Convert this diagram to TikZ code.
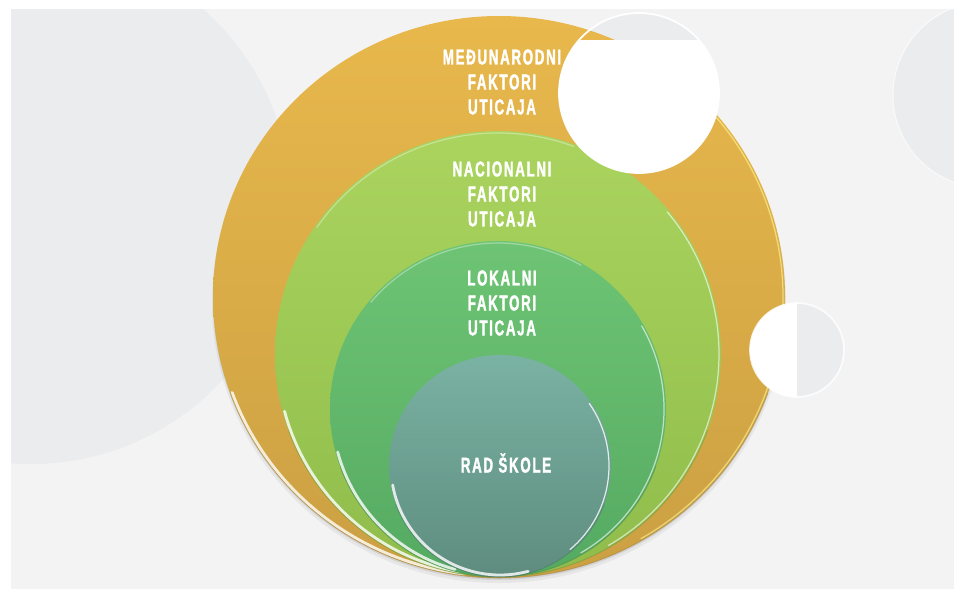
\documentclass[tikz,border=0pt]{standalone}
\usepackage{fontspec}
\setsansfont{Liberation Sans}[BoldFont={Liberation Sans Bold},BoldFeatures={FakeBold=1.6},FakeStretch=0.62,LetterSpace=8]
\usetikzlibrary{calc}
\definecolor{cBack}{HTML}{F3F3F3}
\definecolor{cDisc}{HTML}{EBECEE}
\definecolor{cGoldT}{HTML}{E8B84C}
\definecolor{cGoldB}{HTML}{CBA043}
\definecolor{cLimeT}{HTML}{AAD45E}
\definecolor{cLimeB}{HTML}{8FBC4B}
\definecolor{cLeafT}{HTML}{6EC474}
\definecolor{cLeafB}{HTML}{55AA62}
\definecolor{cTealT}{HTML}{7AB2A3}
\definecolor{cTealB}{HTML}{5E8D7F}
\tikzset{
  ring/.style={line width=0.5pt,opacity=0.35},
  gloss/.style={draw=white,line width=1.6pt,line cap=round,opacity=0.8},
  rim/.style={draw=white,line width=0.7pt,line cap=round,opacity=0.6},
  lbl/.style={font=\sffamily\bfseries\fontsize{12.2}{14.2}\selectfont,text=white,align=center,inner sep=0pt},
  deco/.style={draw=white,line width=1pt}}

\begin{document}
\begin{tikzpicture}[x=0.02cm,y=-0.02cm]
\useasboundingbox (0,0) rectangle (954,589);
\fill[white] (0,0) rectangle (954,589);
\fill[cBack] (11,9) rectangle (954,589);
% pale discs behind the rings
\begin{scope}
  \clip (11,9) rectangle (954,589);
  \fill[cDisc] (31,204) circle[radius=260];
  \fill[cDisc] (986,95) circle[radius=93];
  \draw[white,line width=0.6pt,opacity=0.7] (986,95) circle[radius=93];
  \clip (550,0) rectangle (730,40);
  \fill[cDisc] (639,93) circle[radius=80];
\end{scope}
% soft shadow
\fill[black,opacity=0.05] (499,302) ellipse[x radius=287,y radius=281];
\fill[black,opacity=0.08] (499,299) ellipse[x radius=286,y radius=281];
% rings, outer to inner
\shade[top color=cGoldT,bottom color=cGoldB] (499,297) ellipse[x radius=286,y radius=281];
\draw[ring,cGoldB!70!black] (499,297) ++(20:286 and 281) arc[start angle=20,end angle=160,x radius=286,y radius=281];
\draw[rim,draw=yellow!40] (499,297) ++(-40:284 and 279) arc[start angle=-40,end angle=60,x radius=284,y radius=279];
\draw[gloss] (499,297) ++(160:284 and 279) arc[start angle=160,end angle=97,x radius=284,y radius=279];

\shade[top color=cLimeT,bottom color=cLimeB] (498,354) circle[radius=223];
\draw[ring,cLimeB!70!black] (498,354) ++(20:223) arc[start angle=20,end angle=160,radius=223];
\draw[rim] (498,354) ++(-40:221) arc[start angle=-40,end angle=60,radius=221];
\draw[rim,opacity=0.35] (498,354) ++(215:221) arc[start angle=215,end angle=290,radius=221];
\draw[gloss] (498,354) ++(165:221) arc[start angle=165,end angle=100,radius=221];

\shade[top color=cLeafT,bottom color=cLeafB] (498,409) circle[radius=168];
\draw[ring,cLeafB!70!black] (498,409) ++(20:168) arc[start angle=20,end angle=160,radius=168];
\draw[rim] (498,409) ++(-30:166) arc[start angle=-30,end angle=60,radius=166];
\draw[rim,opacity=0.35] (498,409) ++(220:166) arc[start angle=220,end angle=300,radius=166];
\draw[gloss] (498,409) ++(165:166) arc[start angle=165,end angle=105,radius=166];

\shade[top color=cTealT,bottom color=cTealB] (500,466) circle[radius=111];
\draw[ring,cTealB!70!black] (500,466) ++(20:111) arc[start angle=20,end angle=160,radius=111];
\draw[rim,opacity=0.8] (500,466) ++(-35:109) arc[start angle=-35,end angle=50,radius=109];
\draw[gloss] (500,466) ++(170:109) arc[start angle=170,end angle=75,radius=109];

% labels
\node[lbl] (intl) at (502,82) {MEĐUNARODNI\\FAKTORI\\UTICAJA};
\node[lbl] (natl) at (502,194) {NACIONALNI\\FAKTORI\\UTICAJA};
\node[lbl] (locl) at (502,303) {LOKALNI\\FAKTORI\\UTICAJA};
\node[lbl] (school) at (506,463) {RAD ŠKOLE};

% white split discs on top
\begin{scope}
  \clip (550,40) rectangle (730,180);
  \fill[white] (639,93) circle[radius=80];
\end{scope}
\draw[deco] (639,93) circle[radius=80];
\fill[white] (797,350) circle[radius=47];
\begin{scope}
  \clip (797,300) rectangle (850,400);
  \fill[cDisc] (797,350) circle[radius=47];
\end{scope}
\draw[deco,opacity=0.8] (797,350) circle[radius=47];
\end{tikzpicture}
\end{document}
